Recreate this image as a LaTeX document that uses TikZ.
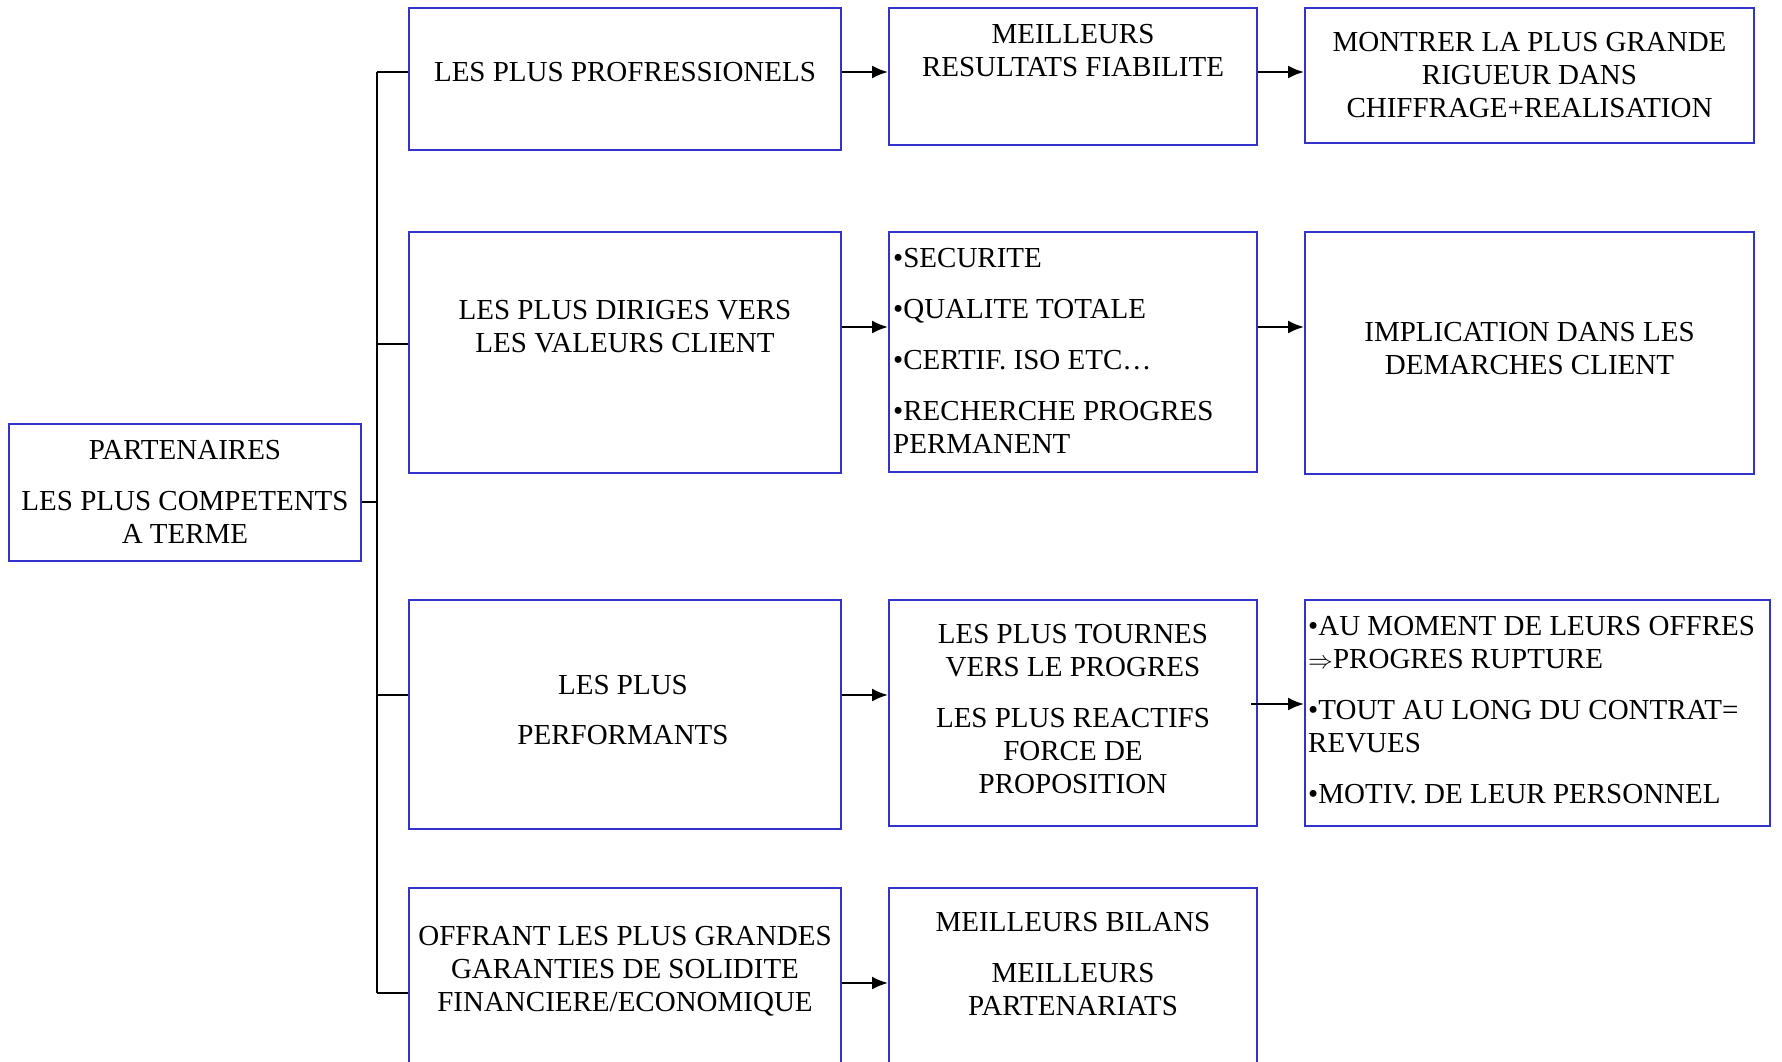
\documentclass[tikz,border=0pt]{standalone}
\usepackage{fontspec}
\setmainfont{Liberation Serif}
\usetikzlibrary{arrows.meta}
\definecolor{cadre}{RGB}{51,51,204}
\begin{document}
\begin{tikzpicture}[x=1pt,y=-1pt,
	boite/.style={draw=cadre,line width=2pt,rectangle,inner sep=0pt},
	texte/.style={inner sep=0pt,anchor=north,align=center,font=\fontsize{29}{33}\selectfont},
	liste/.style={inner sep=0pt,anchor=north west,align=left,font=\fontsize{29}{33}\selectfont},
	trait/.style={line width=2pt},
	fleche/.style={line width=2.2pt,-{Latex[length=16pt,width=13pt]}}]
	\useasboundingbox (0,0) rectangle (1782,1062);
	\clip (0,0) rectangle (1782,1062);
	
	% boites
	\node[boite,minimum width=352pt,minimum height=137pt] (racine) at (185,492.5) {};
	\node[boite,minimum width=432pt,minimum height=142pt] (a1) at (625,79) {};
	\node[boite,minimum width=368pt,minimum height=137pt] (a2) at (1073,76.5) {};
	\node[boite,minimum width=449pt,minimum height=135pt] (a3) at (1529.5,75.5) {};
	\node[boite,minimum width=432pt,minimum height=241pt] (b1) at (625,352.5) {};
	\node[boite,minimum width=368pt,minimum height=240pt] (b2) at (1073,352) {};
	\node[boite,minimum width=449pt,minimum height=242pt] (b3) at (1529.5,353) {};
	\node[boite,minimum width=432pt,minimum height=229pt] (c1) at (625,714) {};
	\node[boite,minimum width=368pt,minimum height=226pt] (c2) at (1073,713) {};
	\node[boite,minimum width=465pt,minimum height=226pt] (c3) at (1537.5,713) {};
	\node[boite,minimum width=432pt,minimum height=224pt] (d1) at (625,1000) {};
	\node[boite,minimum width=368pt,minimum height=224pt] (d2) at (1073,1000) {};
	
	% textes
	\node[texte] (racinetxt) at (185,440.4) {PARTENAIRES\\[18pt]LES PLUS COMPETENTS\\A TERME};
	\node[texte] (a1txt) at (625,62.4) {LES PLUS PROFRESSIONELS};
	\node[texte] (a2txt) at (1073,24.4) {MEILLEURS\\RESULTATS FIABILITE};
	\node[texte] (a3txt) at (1529.5,32.4) {MONTRER LA PLUS GRANDE\\RIGUEUR DANS\\CHIFFRAGE+REALISATION};
	\node[texte] (b1txt) at (625,300.4) {LES PLUS DIRIGES VERS\\LES VALEURS CLIENT};
	\node[liste] (b2txt) at (893,248.4) {•SECURITE\\[18pt]•QUALITE TOTALE\\[18pt]•CERTIF. ISO ETC…\\[18pt]•RECHERCHE PROGRES\\PERMANENT};
	\node[texte] (b3txt) at (1529.5,322.4) {IMPLICATION DANS LES\\DEMARCHES CLIENT};
	\node[texte] (c1txt) at (623,675.4) {LES PLUS\\[17pt]PERFORMANTS};
	\node[texte] (c2txt) at (1073,624.4) {LES PLUS TOURNES\\VERS LE PROGRES\\[18pt]LES PLUS REACTIFS\\FORCE DE\\PROPOSITION};
	\node[liste] (c3txt) at (1308,616.4) {•AU MOMENT DE LEURS OFFRES\\$\Rightarrow$PROGRES RUPTURE\\[18pt]•TOUT AU LONG DU CONTRAT=\\REVUES\\[18pt]•MOTIV. DE LEUR PERSONNEL};
	\node[texte] (d1txt) at (625,926.4) {OFFRANT LES PLUS GRANDES\\GARANTIES DE SOLIDITE\\FINANCIERE/ECONOMIQUE};
	\node[texte] (d2txt) at (1073,912.4) {MEILLEURS BILANS\\[18pt]MEILLEURS\\PARTENARIATS};
	
	% accolade
	\coordinate (tka) at (377,72);
	\coordinate (tkb) at (377,344);
	\coordinate (tkr) at (377,502);
	\coordinate (tkc) at (377,695);
	\coordinate (tkd) at (377,993);
	\draw[trait] (tka) -- (tkd);
	\draw[trait] (tkr -| racine.east) -- (tkr);
	\draw[trait] (tka) -- (tka -| a1.west);
	\draw[trait] (tkb) -- (tkb -| b1.west);
	\draw[trait] (tkc) -- (tkc -| c1.west);
	\draw[trait] (tkd) -- (tkd -| d1.west);
	
	% fleches
	\coordinate (rowa) at (0,72);
	\coordinate (rowb) at (0,327);
	\coordinate (rowc) at (0,695);
	\coordinate (rowcc) at (0,704);
	\coordinate (rowd) at (0,983);
	\draw[fleche] (rowa -| a1.east) -- (rowa -| a2.west);
	\draw[fleche] (rowa -| a2.east) -- (rowa -| a3.west);
	\draw[fleche] (rowb -| b1.east) -- (rowb -| b2.west);
	\draw[fleche] (rowb -| b2.east) -- (rowb -| b3.west);
	\draw[fleche] (rowc -| c1.east) -- (rowc -| c2.west);
	\draw[fleche] ([xshift=-7pt]rowcc -| c2.east) -- (rowcc -| c3.west);
	\draw[fleche] (rowd -| d1.east) -- (rowd -| d2.west);
\end{tikzpicture}
\end{document}
